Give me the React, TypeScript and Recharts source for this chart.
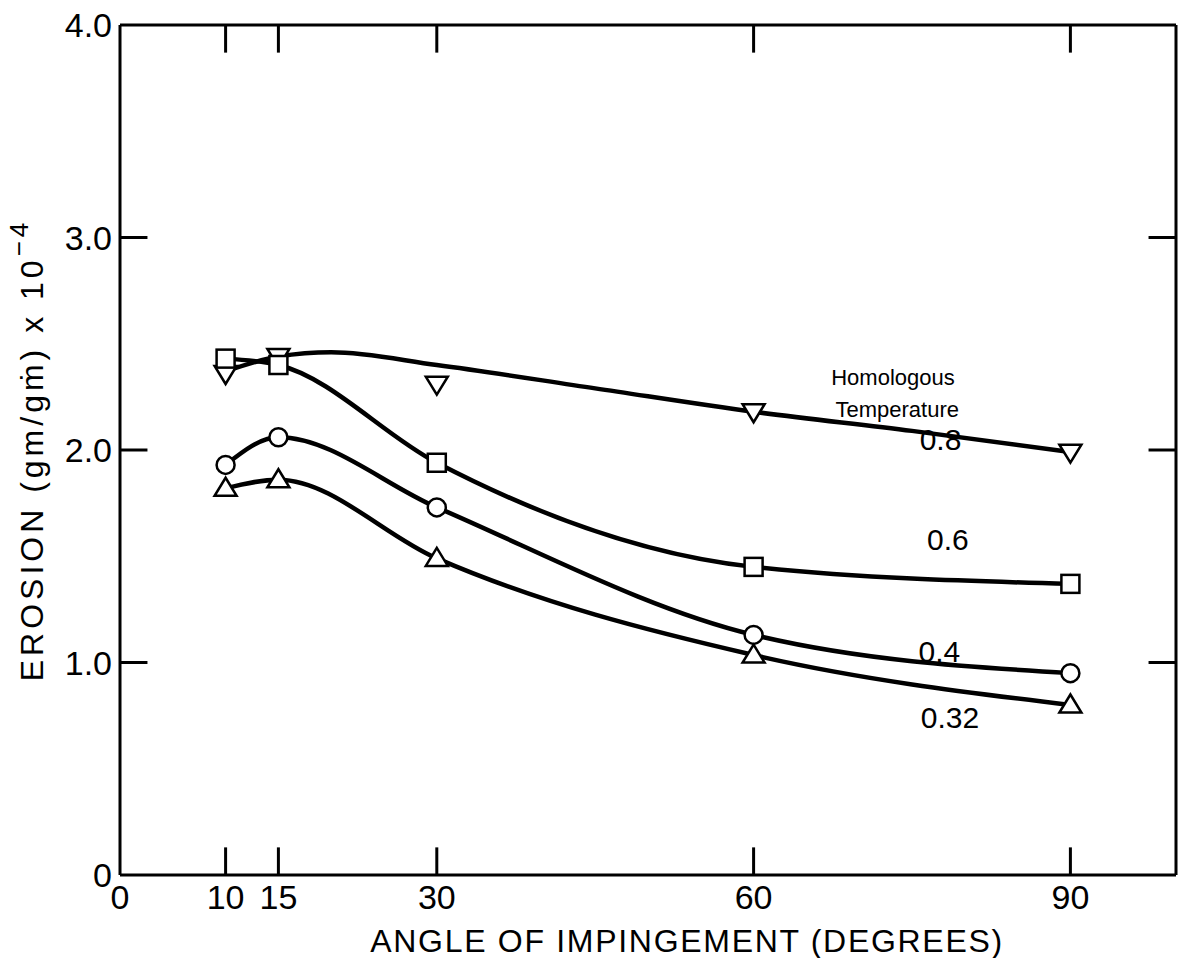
import React from 'react';
import { ComposedChart, Line, Scatter, XAxis, YAxis, ReferenceDot, ReferenceLine, Label } from 'recharts';

const FONT = '"Liberation Sans", Arial, Helvetica, sans-serif';

// angle of impingement (degrees) where measurements were taken
const angles = [10, 15, 30, 60, 90];

// erosion (gm/gm x 10^-4) for each homologous temperature
const erosion080 = [2.36, 2.44, 2.31, 2.18, 1.99];
const erosion060 = [2.43, 2.40, 1.94, 1.45, 1.37];
const erosion040 = [1.93, 2.06, 1.73, 1.13, 0.95];
const erosion032 = [1.82, 1.86, 1.49, 1.035, 0.8];

// the 0.8 curve is a fitted line, it misses the 30 deg point
const fitAngles080 = [10, 15, 20, 30, 45, 60, 75, 90];
const fit080 = [2.37, 2.44, 2.46, 2.4, 2.29, 2.18, 2.09, 1.99];

const xTicks = [0, 10, 15, 30, 60, 90];
const xMarks = [10, 15, 30, 60, 90];
const yTicks = [0, 1, 2, 3, 4];
const yMarks = [1, 2, 3];
const X_MAX = 100;
const Y_MAX = 4;

const notes = [
  { text: 'Homologous', x: 73.2, y: 2.34, size: 22 },
  { text: 'Temperature', x: 73.6, y: 2.19, size: 22 },
  { text: '0.8', x: 77.7, y: 2.05, size: 30 },
  { text: '0.6', x: 78.4, y: 1.58, size: 30 },
  { text: '0.4', x: 77.6, y: 1.05, size: 30 },
  { text: '0.32', x: 78.6, y: 0.74, size: 30 },
];

const rows = (xs: number[], ys: number[]) => xs.map((x, i) => ({ x, y: ys[i] }));

const series = [
  { name: '0.8', kind: 'down', marks: rows(angles, erosion080), curve: rows(fitAngles080, fit080) },
  { name: '0.6', kind: 'square', marks: rows(angles, erosion060), curve: rows(angles, erosion060) },
  { name: '0.4', kind: 'circle', marks: rows(angles, erosion040), curve: rows(angles, erosion040) },
  { name: '0.32', kind: 'up', marks: rows(angles, erosion032), curve: rows(angles, erosion032) },
];

// inward tick length, in axis units (about 28px)
const TICK_Y = 0.13;
const TICK_X = 2.6;
const AXIS = { stroke: '#000', strokeWidth: 3 };

const Marker = ({ cx, cy, kind }: any) => {
  const s = { fill: '#fff', stroke: '#000', strokeWidth: 2.5 };
  if (kind === 'square') return <rect x={cx - 9} y={cy - 9} width={18} height={18} {...s} />;
  if (kind === 'circle') return <circle cx={cx} cy={cy} r={9} {...s} />;
  if (kind === 'up')
    return <polygon points={`${cx - 11},${cy + 7.5} ${cx + 11},${cy + 7.5} ${cx},${cy - 10.5}`} {...s} />;
  return <polygon points={`${cx - 11},${cy - 7.5} ${cx + 11},${cy - 7.5} ${cx},${cy + 10.5}`} {...s} />;
};

const BottomTick = ({ x, y, payload }: any) => (
  <text x={x} y={y + 34} textAnchor="middle" fontSize={34} fontFamily={FONT} fill="#000">
    {payload.value}
  </text>
);

const LeftTick = ({ x, y, payload }: any) => (
  <text x={x - 8} y={y + 12} textAnchor="end" fontSize={34} fontFamily={FONT} fill="#000">
    {payload.value === 0 ? '0' : payload.value.toFixed(1)}
  </text>
);

const XTitle = ({ viewBox }: any) => (
  <text
    x={viewBox.x + viewBox.width * 0.537}
    y={viewBox.y + 77}
    textAnchor="middle"
    fontSize={32}
    letterSpacing={1.7}
    fontFamily={FONT}
    fill="#000"
  >
    ANGLE OF IMPINGEMENT (DEGREES)
  </text>
);

const YTitle = ({ viewBox }: any) => {
  const cx = 32;
  const cy = viewBox.y + viewBox.height / 2;
  return (
    <text
      x={cx}
      y={cy}
      transform={`rotate(-90 ${cx} ${cy})`}
      textAnchor="middle"
      dominantBaseline="central"
      fontSize={32}
      letterSpacing={4}
      fontFamily={FONT}
      fill="#000"
    >
      EROSION (gm/gṁ) x 10
      <tspan fontSize={26} dy={-13}>−4</tspan>
    </text>
  );
};

export default function App() {
  return (
    <div style={{ position: 'absolute', left: 0, top: 0, width: 1178, height: 958, background: '#fff' }}>
      <ComposedChart width={1178} height={958} margin={{ top: 25, right: 2, left: 0, bottom: 0 }}>
        <XAxis
          xAxisId="bottom"
          dataKey="x"
          type="number"
          domain={[0, X_MAX]}
          ticks={xTicks}
          interval={0}
          height={83}
          tickSize={0}
          tickMargin={0}
          tickLine={false}
          axisLine={AXIS}
          tick={<BottomTick />}
        >
          <Label content={<XTitle />} />
        </XAxis>
        <YAxis
          yAxisId="left"
          dataKey="y"
          type="number"
          domain={[0, Y_MAX]}
          ticks={yTicks}
          interval={0}
          width={120}
          tickSize={0}
          tickMargin={0}
          tickLine={false}
          axisLine={AXIS}
          tick={<LeftTick />}
        >
          <Label content={<YTitle />} />
        </YAxis>

        {/* frame: top and right border */}
        <ReferenceLine xAxisId="bottom" yAxisId="left" y={Y_MAX} {...AXIS} />
        <ReferenceLine xAxisId="bottom" yAxisId="left" x={X_MAX} {...AXIS} />

        {/* inward tick marks on all four sides */}
        {xMarks.map((v) => (
          <ReferenceLine
            key={`xb-${v}`}
            xAxisId="bottom"
            yAxisId="left"
            segment={[{ x: v, y: 0 }, { x: v, y: TICK_Y }]}
            {...AXIS}
          />
        ))}
        {xMarks.map((v) => (
          <ReferenceLine
            key={`xt-${v}`}
            xAxisId="bottom"
            yAxisId="left"
            segment={[{ x: v, y: Y_MAX }, { x: v, y: Y_MAX - TICK_Y }]}
            {...AXIS}
          />
        ))}
        {yMarks.map((v) => (
          <ReferenceLine
            key={`yl-${v}`}
            xAxisId="bottom"
            yAxisId="left"
            segment={[{ x: 0, y: v }, { x: TICK_X, y: v }]}
            {...AXIS}
          />
        ))}
        {yMarks.map((v) => (
          <ReferenceLine
            key={`yr-${v}`}
            xAxisId="bottom"
            yAxisId="left"
            segment={[{ x: X_MAX, y: v }, { x: X_MAX - TICK_X, y: v }]}
            {...AXIS}
          />
        ))}

        {series.map((s) => (
          <Line
            key={`curve-${s.name}`}
            xAxisId="bottom"
            yAxisId="left"
            data={s.curve}
            dataKey="y"
            type="monotone"
            stroke="#000"
            strokeWidth={4.5}
            dot={false}
            activeDot={false}
            isAnimationActive={false}
          />
        ))}
        {series.map((s) => (
          <Scatter
            key={`marks-${s.name}`}
            xAxisId="bottom"
            yAxisId="left"
            data={s.marks}
            dataKey="y"
            shape={(p: any) => <Marker cx={p.cx} cy={p.cy} kind={s.kind} />}
            isAnimationActive={false}
          />
        ))}
        {notes.map((n) => (
          <ReferenceDot
            key={n.text}
            xAxisId="bottom"
            yAxisId="left"
            x={n.x}
            y={n.y}
            r={0}
            shape={(p: any) => (
              <text
                x={p.cx}
                y={p.cy}
                textAnchor="middle"
                dominantBaseline="central"
                fontSize={n.size}
                fontFamily={FONT}
                fill="#000"
              >
                {n.text}
              </text>
            )}
          />
        ))}
      </ComposedChart>
    </div>
  );
}
